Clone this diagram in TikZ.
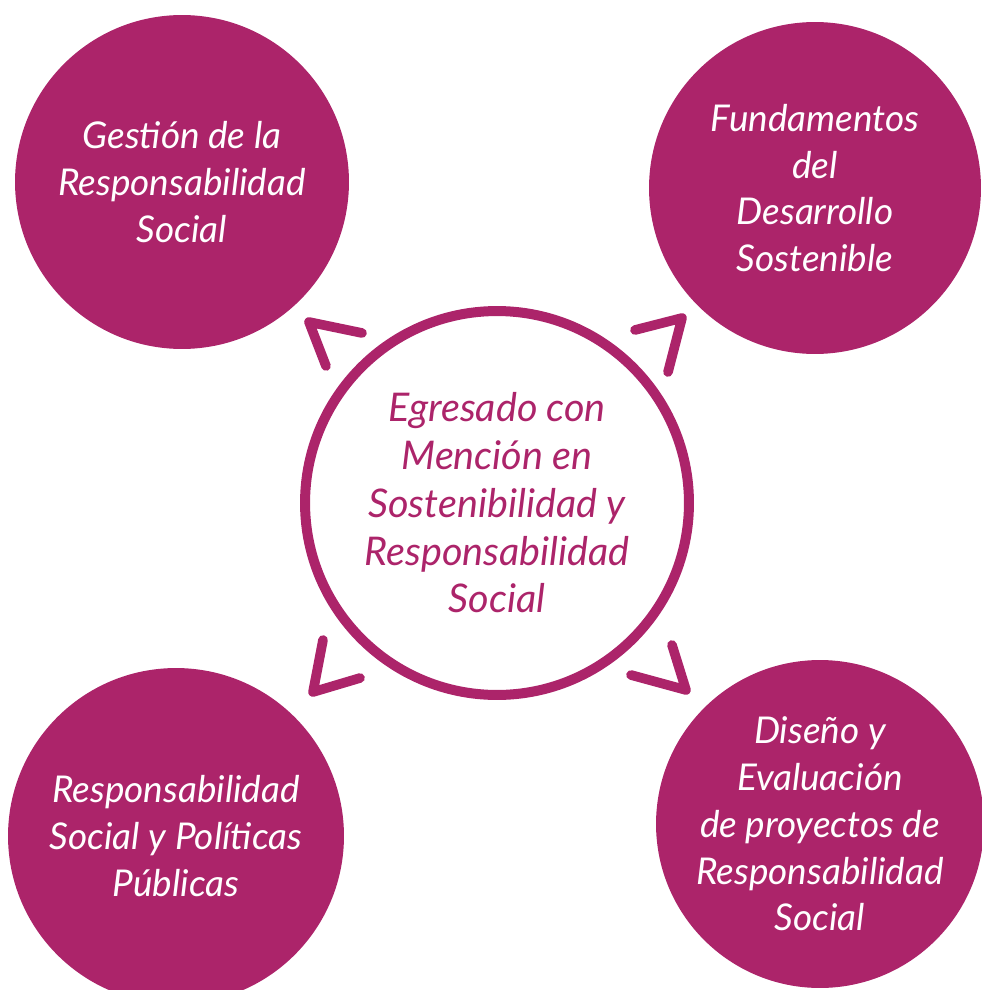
\documentclass[tikz,border=0pt]{standalone}
\usepackage{fontspec}
\setmainfont{Lato}
\usepackage{tikz}
\usetikzlibrary{calc}
\definecolor{uvino}{RGB}{172,36,106}

\begin{document}
\begin{tikzpicture}[x=0.02cm,y=-0.02cm,
    bubble/.style={circle,fill=uvino,text=white,inner sep=0pt,align=center,
      font=\itshape\fontsize{21}{26.6}\selectfont},
    hub/.style={circle,draw=uvino,line width=0.2cm,text=uvino,inner sep=0pt,
      align=center,minimum size=7.68cm,font=\itshape\fontsize{22.5}{27.2}\selectfont},
    chev/.style={draw=uvino,line width=5.5pt,line cap=round,line join=round}]
    \useasboundingbox (0,0) rectangle (982,990);
    \node[hub] (egresado) at (497,503) {Egresado con\\Mención en\\Sostenibilidad y\\Responsabilidad\\Social};
    \node[bubble,minimum size=6.68cm] (gestion) at (182,182) {Gestión de la\\Responsabilidad\\Social};
    \node[bubble,minimum size=6.64cm] (fundamentos) at (815,188) {Fundamentos\\del\\Desarrollo\\Sostenible};
    \node[bubble,minimum size=6.72cm] (politicas) at (176,836) {Responsabilidad\\Social y Políticas\\Públicas};
    \node[bubble,minimum size=6.56cm] (proyectos) at (820,824) {Diseño y\\Evaluación\\de proyectos de\\Responsabilidad\\Social};
    % arrow heads
    \coordinate (tl) at (309,322);
    \coordinate (tr) at (682,318);
    \coordinate (bl) at (313,692);
    \coordinate (br) at (686,690);
    \draw[chev] ($(tl)+(53,11)$) -- (tl) -- ($(tl)+(17,44)$);
    \draw[chev] ($(tr)+(-47,12)$) -- (tr) -- ($(tr)+(-14,54)$);
    \draw[chev] ($(bl)+(10,-52)$) -- (bl) -- ($(bl)+(47,-14)$);
    \draw[chev] ($(br)+(-14,-45)$) -- (br) -- ($(br)+(-55,-15)$);
\end{tikzpicture}
\end{document}
